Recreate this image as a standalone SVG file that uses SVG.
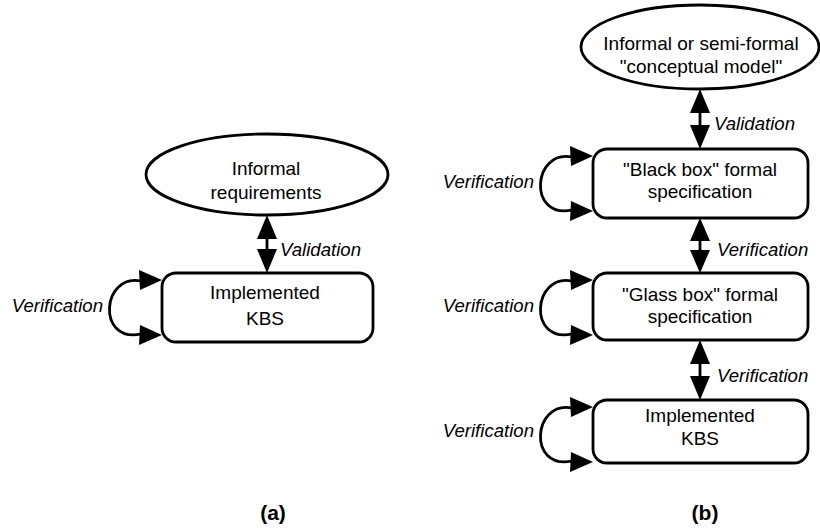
<svg xmlns="http://www.w3.org/2000/svg" width="820" height="528" viewBox="0 0 820 528">
  <defs>
    <style>
      .shape { fill: #ffffff; stroke: #000000; stroke-width: 2.8; }
      .line { fill: none; stroke: #000000; stroke-width: 2.8; }
      .head { fill: #000000; stroke: none; }
      .node { font-family: "Liberation Sans", Arial, Helvetica, sans-serif; font-size: 19px; text-anchor: middle; fill: #000000; }
      .lbl { font-family: "Liberation Sans", Arial, Helvetica, sans-serif; font-size: 18.6px; font-style: italic; fill: #000000; }
      .cap { font-family: "Liberation Sans", Arial, Helvetica, sans-serif; font-size: 21px; font-weight: bold; text-anchor: middle; fill: #000000; }
    </style>
    <g id="loop">
      <path class="line" d="M -21 8 C -60 0, -66 70, -21 61"/>
      <polygon class="head" points="-23,-3 0,7 -22,17"/>
      <polygon class="head" points="-22,52 0,62 -23,72"/>
    </g>
  </defs>
  <rect width="820" height="528" fill="#ffffff"/>

  <!-- (a) -->
  <g id="a-requirements">
    <ellipse class="shape" cx="267" cy="174.5" rx="121" ry="40.5"/>
    <text class="node" x="266" y="175">Informal</text>
    <text class="node" x="266" y="199">requirements</text>
  </g>
  <g id="a-kbs">
    <rect class="shape" x="162" y="273" width="211" height="69" rx="14" ry="14"/>
    <text class="node" x="265" y="299">Implemented</text>
    <text class="node" x="265" y="325">KBS</text>
  </g>

  <!-- (b) -->
  <g id="b-conceptual">
    <ellipse class="shape" cx="700" cy="47" rx="119" ry="42"/>
    <text class="node" x="701" y="50">Informal or semi-formal</text>
    <text class="node" x="701" y="73">"conceptual model"</text>
  </g>
  <g id="b-blackbox">
    <rect class="shape" x="593" y="149" width="215" height="69" rx="14" ry="14"/>
    <text class="node" x="700" y="176">"Black box" formal</text>
    <text class="node" x="700" y="198">specification</text>
  </g>
  <g id="b-glassbox">
    <rect class="shape" x="593" y="273" width="215" height="67" rx="14" ry="14"/>
    <text class="node" x="700" y="301">"Glass box" formal</text>
    <text class="node" x="700" y="323">specification</text>
  </g>
  <g id="b-kbs">
    <rect class="shape" x="593" y="400" width="215" height="63" rx="14" ry="14"/>
    <text class="node" x="700" y="422">Implemented</text>
    <text class="node" x="700" y="445">KBS</text>
  </g>

  <g id="connectors">
    <!-- (a) validation -->
    <line class="line" x1="267" y1="238" x2="267" y2="250"/>
    <polygon class="head" points="267,215 257,239 277,239"/>
    <polygon class="head" points="257,249 277,249 267,273"/>
    <!-- (b) validation -->
    <line class="line" x1="700" y1="112" x2="700" y2="126"/>
    <polygon class="head" points="700,89 690,113 710,113"/>
    <polygon class="head" points="690,125 710,125 700,149"/>
    <!-- (b) verification 1 -->
    <line class="line" x1="700" y1="240" x2="700" y2="251"/>
    <polygon class="head" points="700,218 690,241 710,241"/>
    <polygon class="head" points="690,250 710,250 700,273"/>
    <!-- (b) verification 2 -->
    <line class="line" x1="700" y1="363" x2="700" y2="377"/>
    <polygon class="head" points="700,340 690,364 710,364"/>
    <polygon class="head" points="690,376 710,376 700,400"/>
    <!-- self loops -->
    <use href="#loop" x="162" y="273"/>
    <use href="#loop" x="593" y="149"/>
    <use href="#loop" x="593" y="273"/>
    <use href="#loop" x="593" y="400"/>
  </g>

  <g id="labels">
    <text class="lbl" x="280" y="256">Validation</text>
    <text class="lbl" x="103" y="312" text-anchor="end">Verification</text>
    <text class="lbl" x="714" y="130">Validation</text>
    <text class="lbl" x="717" y="256">Verification</text>
    <text class="lbl" x="717" y="382">Verification</text>
    <text class="lbl" x="534" y="188" text-anchor="end">Verification</text>
    <text class="lbl" x="534" y="312" text-anchor="end">Verification</text>
    <text class="lbl" x="534" y="437" text-anchor="end">Verification</text>
    <text class="cap" x="273" y="520">(a)</text>
    <text class="cap" x="705" y="520">(b)</text>
  </g>
</svg>
